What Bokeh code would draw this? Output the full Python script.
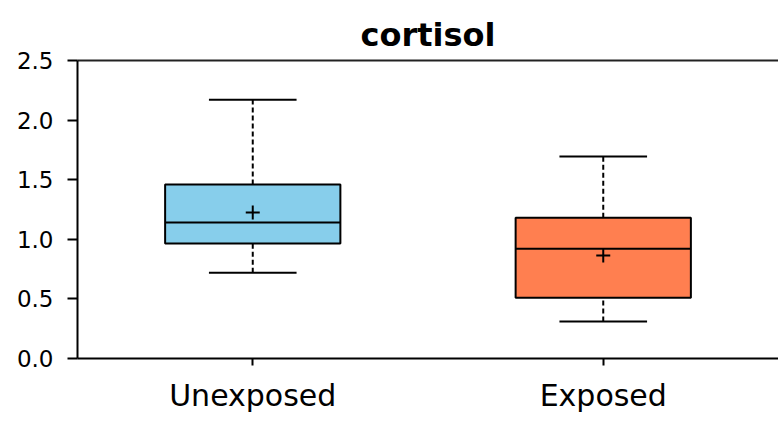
from bokeh.plotting import figure
from bokeh.models import (ColumnDataSource, FactorRange, Range1d, FixedTicker,
                          PrintfTickFormatter, LinearAxis)
from bokeh.transform import dodge
from bokeh.embed import file_html
from bokeh.resources import INLINE

# ---- data ----
cats = ["Unexposed", "Exposed"]
whisk_low = [0.72, 0.31]
q1 = [0.965, 0.51]
median = [1.14, 0.92]
q3 = [1.46, 1.18]
whisk_high = [2.17, 1.695]
mean = [1.225, 0.865]
colors = ["#87CEEB", "#FF7F50"]
y_ticks = [0.0, 0.5, 1.0, 1.5, 2.0, 2.5]

src = ColumnDataSource(dict(cat=cats, lo=whisk_low, q1=q1, med=median, q3=q3,
                            hi=whisk_high, mean=mean, color=colors))

FONT = "DejaVu Sans"

p = figure(width=778, height=422, output_backend="svg", toolbar_location=None,
           x_range=FactorRange(factors=cats, range_padding=0),
           y_range=Range1d(0, 2.5),
           min_border_left=77, min_border_right=0, min_border_top=60,
           min_border_bottom=64, title="cortisol")

p.title.text_font = FONT
p.title.text_font_size = "32px"
p.title.text_font_style = "bold"
p.title.align = "center"
p.title.text_color = "black"
p.title.standoff = 10
p.title.vertical_align = "top"

p.outline_line_color = None
p.xgrid.grid_line_color = None
p.ygrid.grid_line_color = None

# whiskers (dashed)
p.segment(x0="cat", y0="q3", x1="cat", y1="hi", source=src,
          line_color="black", line_width=2, line_dash="5 3")
p.segment(x0="cat", y0="lo", x1="cat", y1="q1", source=src,
          line_color="black", line_width=2, line_dash="5 3")
# caps
p.segment(x0=dodge("cat", -0.125, range=p.x_range), y0="hi",
          x1=dodge("cat", 0.125, range=p.x_range), y1="hi", source=src,
          line_color="black", line_width=2)
p.segment(x0=dodge("cat", -0.125, range=p.x_range), y0="lo",
          x1=dodge("cat", 0.125, range=p.x_range), y1="lo", source=src,
          line_color="black", line_width=2)
# boxes
p.vbar(x="cat", width=0.5, bottom="q1", top="q3", source=src,
       fill_color="color", line_color="black", line_width=2)
# medians
p.segment(x0=dodge("cat", -0.25, range=p.x_range), y0="med",
          x1=dodge("cat", 0.25, range=p.x_range), y1="med", source=src,
          line_color="black", line_width=2)
# means
p.scatter(x="cat", y="mean", source=src, marker="cross", size=14,
          line_color="black", line_width=2)

# axes
xa = p.xaxis[0]
xa.axis_line_width = 2
xa.axis_line_color = "black"
xa.major_tick_in = 0
xa.major_tick_out = 7
xa.major_tick_line_width = 2
xa.major_label_text_font = FONT
xa.major_label_text_font_size = "30px"
xa.major_label_text_color = "black"
xa.major_label_standoff = 12

ya = p.yaxis[0]
ya.ticker = FixedTicker(ticks=y_ticks)
ya.formatter = PrintfTickFormatter(format="%.1f")
ya.axis_line_width = 2
ya.axis_line_color = "black"
ya.major_tick_in = 0
ya.major_tick_out = 10
ya.major_tick_line_width = 2
ya.minor_tick_line_color = None
ya.major_label_text_font = FONT
ya.major_label_text_font_size = "23px"
ya.major_label_text_color = "black"
ya.major_label_standoff = 14

top = LinearAxis(axis_line_width=2, axis_line_color="#222222",
                 ticker=FixedTicker(ticks=[]),
                 major_tick_line_color=None, minor_tick_line_color=None,
                 major_label_standoff=0)
p.add_layout(top, "above")

open("out.html", "w").write(file_html(p, INLINE))
